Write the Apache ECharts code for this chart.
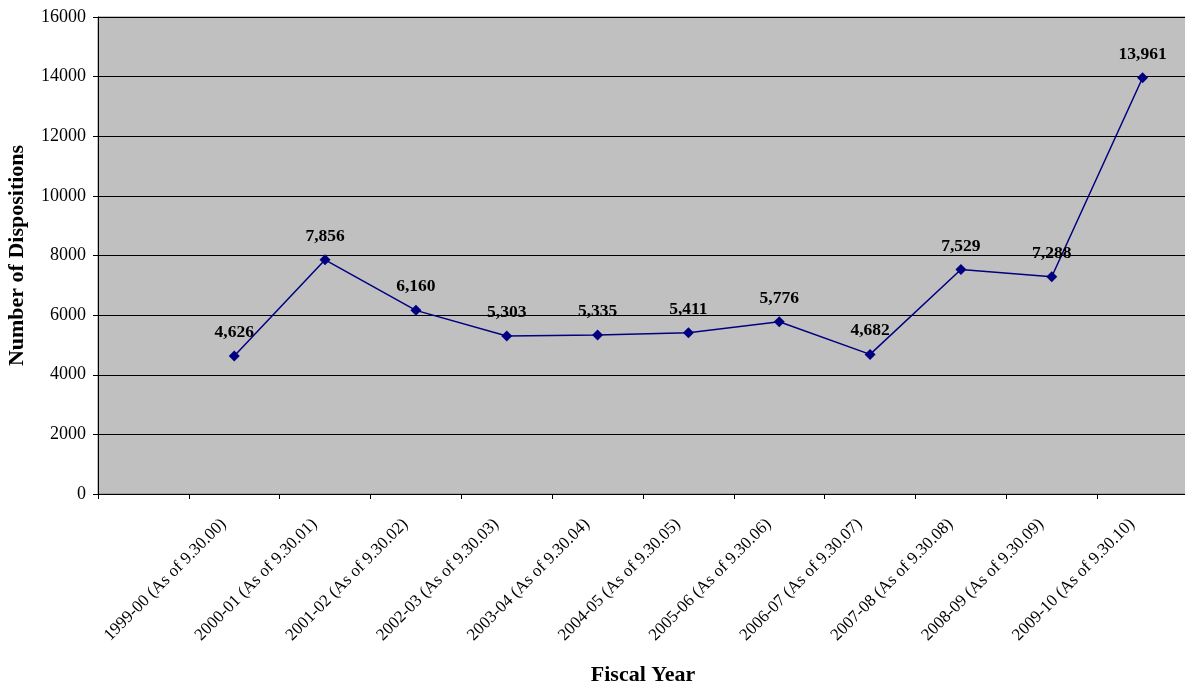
<!DOCTYPE html>
<html>
<head>
<meta charset="utf-8">
<script src="https://cdn.jsdelivr.net/npm/echarts@6/dist/echarts.min.js"></script>
<style>
html,body{margin:0;padding:0;background:#fff;}
#chart{width:1185px;height:685px;}
</style>
</head>
<body>
<div id="chart"></div>
<script>
const categories = ['', '1999-00 (As of 9.30.00)', '2000-01 (As of 9.30.01)', '2001-02 (As of 9.30.02)', '2002-03 (As of 9.30.03)', '2003-04 (As of 9.30.04)', '2004-05 (As of 9.30.05)', '2005-06 (As of 9.30.06)', '2006-07 (As of 9.30.07)', '2007-08 (As of 9.30.08)', '2008-09 (As of 9.30.09)', '2009-10 (As of 9.30.10)'];
const dispositions = [null, 4626, 7856, 6160, 5303, 5335, 5411, 5776, 4682, 7529, 7288, 13961];
const yMin = 0, yMax = 16000, yStep = 2000;

const serif = '"Liberation Serif", "Times New Roman", serif';
const chart = echarts.init(document.getElementById('chart'));
chart.setOption({
  animation: false,
  backgroundColor: '#ffffff',
  grid: {left: 98, top: 17, width: 1090, height: 477, outerBoundsMode: 'none', containLabel: false,
         backgroundColor: '#c0c0c0', show: true, borderColor: '#808080', borderWidth: 1},
  xAxis: {
    type: 'category',
    data: categories,
    boundaryGap: true,
    name: 'Fiscal Year',
    nameLocation: 'middle',
    nameGap: 170,
    nameTextStyle: {fontFamily: serif, fontSize: 22, fontWeight: 'bold', color: '#000'},
    axisLine: {lineStyle: {color: '#000', width: 1}},
    axisTick: {show: true, length: 5, alignWithLabel: false, lineStyle: {color: '#000'}},
    axisLabel: {rotate: 45, margin: 17, padding: [0, 15, 0, 0], fontFamily: serif, fontSize: 17, color: '#000', interval: 0}
  },
  yAxis: {
    type: 'value',
    min: yMin, max: yMax, interval: yStep,
    name: 'Number of Dispositions',
    nameLocation: 'middle',
    nameGap: 70,
    nameTextStyle: {fontFamily: serif, fontSize: 22, fontWeight: 'bold', color: '#000'},
    axisLine: {show: true, lineStyle: {color: '#000', width: 1}},
    axisTick: {show: true, length: 5, lineStyle: {color: '#000'}},
    axisLabel: {margin: 12, fontFamily: serif, fontSize: 18, color: '#000', formatter: v => String(v)},
    splitLine: {show: true, lineStyle: {color: '#000', width: 1}}
  },
  series: [{
    type: 'line',
    data: dispositions,
    connectNulls: false,
    symbol: 'diamond',
    symbolSize: 11,
    itemStyle: {color: '#000080'},
    lineStyle: {color: '#000080', width: 1.5},
    label: {
      show: true, position: 'top', distance: 9,
      fontFamily: serif, fontSize: 17.5, fontWeight: 'bold', color: '#000',
      formatter: p => p.value == null ? '' : p.value.toLocaleString('en-US')
    }
  }]
});
</script>
</body>
</html>
